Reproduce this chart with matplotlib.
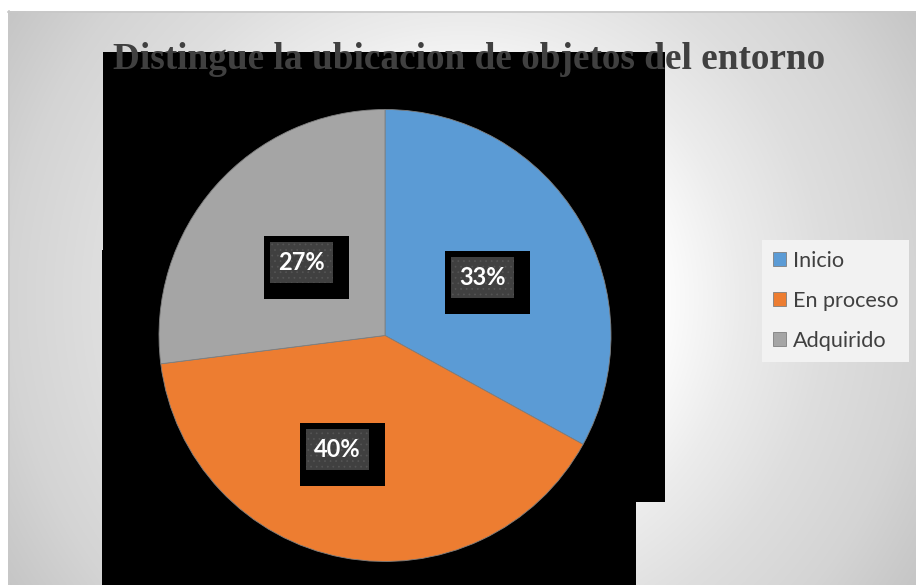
import matplotlib

matplotlib.use("Agg")
import matplotlib.pyplot as plt
import numpy as np
from matplotlib.patches import Rectangle
from matplotlib.transforms import IdentityTransform

# data
categories = ["Inicio", "En proceso", "Adquirido"]
shares = [33, 40, 27]
pct_labels = ["33%", "40%", "27%"]
title = "Distingue la ubicacion de objetos del entorno"

colors = ["#5b9bd5", "#ed7d31", "#a5a5a5"]
label_dist = [0.50, 0.545, 0.49]      # radial position of each data label
label_shift = [0.0, -12.0, 0.0]       # angular nudge (deg) from wedge middle

W, H = 916, 585
fig = plt.figure(figsize=(W / 100, H / 100), dpi=100, facecolor="white")

# chart area background: radial grey gradient, plus the black render artefact
bg = fig.add_axes([0, 0, 1, 1])
bg.set_xlim(0, W)
bg.set_ylim(H, 0)
bg.axis("off")
yy, xx = np.mgrid[11:H, 8:W]
u = np.hypot(xx - 462, yy - 298) / 454
shade = np.interp(u, [0, 0.42, 0.61, 0.8, 1.0, 1.2],
                  [255, 255, 236, 222, 212, 196]) / 255
bg.imshow(np.dstack([shade] * 3), extent=(8, W, H, 11), aspect="auto",
          interpolation="bilinear", zorder=0)
bg.plot([8, W], [11.5, 11.5], color="#c8c8c8", lw=1.2, zorder=1)
bg.plot([8.5, 8.5], [11, H], color="#c8c8c8", lw=1.2, zorder=1)
bg.add_patch(Rectangle((103, 52), 562, 450, fc="black", ec="none", zorder=2))
bg.add_patch(Rectangle((102, 250), 534, 335, fc="black", ec="none", zorder=2))

# pie
ax = fig.add_axes([159 / W, (H - 561.5) / H, 452 / W, 452 / H])
wedges, _ = ax.pie(shares, colors=colors, startangle=90, counterclock=False,
                   radius=1, wedgeprops=dict(edgecolor="#7f7f7f", linewidth=0.6))
ax.set_xlim(-1, 1)
ax.set_ylim(-1, 1)

# data labels: black shadow box, dotted dark box, white bold text
plt.rcParams["hatch.linewidth"] = 0.5
for w, lab, dist, shift in zip(wedges, pct_labels, label_dist, label_shift):
    ang = np.deg2rad((w.theta1 + w.theta2) / 2 + shift)
    x, y = dist * np.cos(ang), dist * np.sin(ang)
    cx, cy = ax.transData.transform((x, y))
    ax.add_patch(Rectangle((cx - 37.5, cy - 36.5), 85, 63, fc="black",
                           ec="none", transform=IdentityTransform(), zorder=3))
    ax.add_patch(Rectangle((cx - 31.5, cy - 20.5), 63, 41, fc="#404040",
                           ec="#555555", lw=0, hatch="...",
                           transform=IdentityTransform(), zorder=4))
    ax.text(x, y, lab, ha="center", va="center", fontsize=17,
            fontweight="bold", family="Lato", color="white", zorder=5)

# title (fit to the width it takes in the reference)
t = fig.text(469 / W, 1 - 69 / H, title, ha="center", va="baseline",
             family="Liberation Serif", fontweight="bold", fontsize=24,
             color="#404040", zorder=10)
fig.canvas.draw()
tw = t.get_window_extent().width
t.set_fontsize(24 * 714 / tw)

fig.legend(wedges, categories, loc="upper left",
           bbox_to_anchor=(762 / W, 1 - 240 / H), borderaxespad=0,
           frameon=True, facecolor="#f2f2f2", edgecolor="none", framealpha=1,
           fancybox=False, prop={"family": "Lato", "size": 15.6},
           labelcolor="#404040", handlelength=0.62, handleheight=0.62,
           handletextpad=0.3, labelspacing=0.92, borderpad=0.5)

fig.savefig("out.png", dpi=100, facecolor="white")
